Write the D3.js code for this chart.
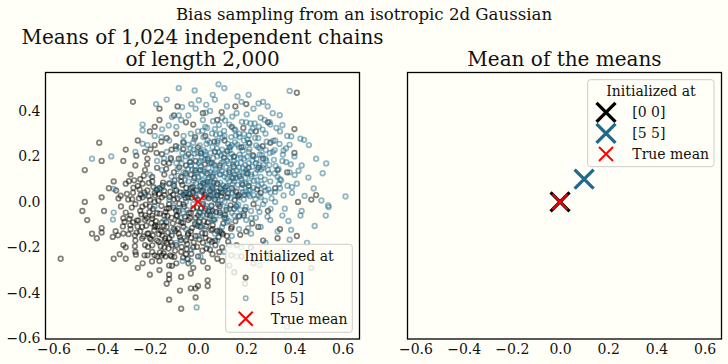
<!DOCTYPE html>
<html><head><meta charset="utf-8">
<script src="https://cdn.jsdelivr.net/npm/d3@7"></script>
<style>
html,body{margin:0;padding:0;background:#fffff8;}
svg{display:block;font-family:"DejaVu Serif",serif;}
</style></head><body>
<svg id="c" width="728" height="364"></svg>
<script>
// ---- data ----
const xTicks = [-0.6,-0.4,-0.2,0.0,0.2,0.4,0.6];
const yTicks = [-0.6,-0.4,-0.2,0.0,0.2,0.4];
const seriesLabels = ["[0 0]","[5 5]"];
const seriesColors = ["#000000","#1f6a8c"];
const trueMean = [0.0, 0.0];
const meanXs = [0.0, 0.10];
const meanYs = [0.0, 0.10];
// chain means, started at [0 0]
const chainsFrom00 = [
[-0.27,0.44],[-0.41,0.26],[-0.40,0.18],[-0.47,0.14],[-0.47,0.00],[-0.40,0.02],[-0.33,0.015],[-0.37,0.06],[-0.35,0.09],[-0.30,0.23],[-0.31,0.18],[-0.22,0.22],[-0.18,0.33],[-0.16,0.41],[-0.085,0.42],[0.41,0.48],[0.20,0.43],[0.155,0.42],[0.29,0.35],[0.40,0.32],[0.40,0.215],[0.37,0.13],[0.49,0.03],[0.47,0.01],[0.415,0.0],[0.33,-0.16],[0.41,-0.15],[0.47,-0.29],[0.195,-0.36],[0.195,-0.33],[0.04,-0.37],[0.04,-0.345],[-0.57,-0.25],[-0.48,-0.04],[-0.46,-0.08],[-0.39,-0.04],[-0.44,-0.14],[-0.42,-0.16],[-0.40,-0.115],[-0.40,-0.135],[-0.35,-0.25],[-0.325,-0.23],[-0.30,-0.25],[-0.31,-0.19],[-0.30,-0.20],[-0.26,-0.22],[-0.23,-0.27],[-0.20,-0.32],[-0.16,-0.30],[-0.12,-0.28],[-0.12,-0.32],[-0.12,-0.34],[-0.13,-0.36],[-0.07,-0.33],[-0.075,-0.39],[-0.12,-0.43],[-0.07,-0.47],[-0.01,-0.42],[-0.03,-0.38],[0.0,-0.37],[-0.03,-0.315],[-0.01,-0.38],
[-0.21,-0.235],[-0.18,-0.235],[-0.17,-0.24],[-0.15,-0.235],[-0.135,-0.24],[-0.115,-0.235],
[-0.30,-0.047],[-0.31,-0.072],[-0.305,-0.088],[-0.354,-0.154],[-0.342,-0.129],[-0.332,-0.147],[-0.31,-0.139],[-0.288,-0.142],[-0.253,-0.081],[-0.232,-0.11],[-0.281,-0.103],[-0.219,-0.059],[-0.19,-0.073],[-0.177,-0.103],[-0.156,-0.125],[-0.205,-0.139],[-0.232,-0.161],[-0.19,-0.191],[-0.163,-0.176],[-0.136,-0.161],[-0.108,-0.191],[-0.143,-0.227],
[-0.28,0.12],[-0.26,0.16],[-0.24,0.10],[-0.22,0.14],[-0.21,0.19],[-0.19,0.11],[-0.18,0.25],[-0.17,0.15],[-0.15,0.21],[-0.14,0.12],[-0.13,0.28],[-0.12,0.17],[-0.11,0.23],[-0.10,0.13],[-0.09,0.30],[-0.08,0.19],[-0.07,0.11],[-0.06,0.26],[-0.05,0.16],[-0.04,0.21],[-0.03,0.12],[-0.02,0.34],[-0.01,0.18],[0.00,0.24],[0.01,0.14],[0.03,0.29],[0.04,0.19],[0.06,0.11],[0.07,0.22],[0.09,0.16],[0.11,0.27],[0.13,0.13],[0.15,0.20],[0.18,0.24],[0.21,0.15],[0.24,0.31],[0.27,0.19],[0.30,0.26],[0.33,0.14],[-0.25,0.27],[-0.20,0.31],[-0.16,0.36],[-0.10,0.38],[-0.05,0.35],[0.02,0.39],[0.08,0.36],[0.14,0.33],
[-0.34,0.05],[-0.32,-0.02],[-0.30,0.08],[-0.29,0.01],[-0.28,-0.06],[-0.27,0.04],[-0.26,-0.01],[-0.25,0.07],[-0.24,-0.04],[-0.23,0.02],[-0.22,-0.08],[-0.21,0.05],[-0.20,-0.02],[-0.19,0.09],[-0.18,0.00],[-0.17,-0.05],[-0.16,0.06],[-0.15,-0.09],[-0.14,0.03],[-0.13,-0.03],[-0.12,0.08],[-0.11,-0.07],[-0.10,0.01],[-0.09,0.05],[-0.08,-0.04],[-0.07,0.09],[-0.06,-0.01],[-0.05,0.04],[-0.04,-0.08],[-0.03,0.06],[-0.02,-0.03],[-0.01,0.02],[0.00,-0.06],[0.01,0.07],[0.02,-0.01],[0.03,0.03],[0.04,-0.09],[0.05,0.05],[0.06,-0.04],[0.07,0.01],[0.08,0.08],[0.09,-0.02],[0.10,0.04],[0.11,-0.07],[0.12,0.02],[0.14,0.06],[0.15,-0.03],[0.17,0.03],[0.19,-0.06],[0.21,0.07],[0.23,-0.01],[0.26,0.04],[0.29,-0.04],[0.32,0.06],
[-0.27,-0.09],[-0.23,0.08],[-0.19,-0.06],[-0.15,0.02],[-0.12,-0.01],[-0.09,-0.06],[-0.06,0.03],[-0.03,-0.05],[0.00,0.01],[0.03,-0.03],[0.06,0.06],[-0.18,0.04],[-0.14,-0.06],[-0.10,0.07],[-0.07,-0.09],[-0.04,0.02],[-0.01,-0.07],[0.02,0.05],[0.05,-0.06],[0.08,0.03],
[-0.28,-0.12],[-0.26,-0.17],[-0.24,-0.13],[-0.22,-0.19],[-0.21,-0.14],[-0.19,-0.22],[-0.18,-0.11],[-0.17,-0.17],[-0.15,-0.13],[-0.14,-0.20],[-0.13,-0.11],[-0.12,-0.16],[-0.11,-0.24],[-0.10,-0.12],[-0.09,-0.19],[-0.08,-0.14],[-0.07,-0.22],[-0.06,-0.11],[-0.05,-0.17],[-0.04,-0.27],[-0.03,-0.13],[-0.02,-0.20],[-0.01,-0.15],[0.00,-0.24],[0.01,-0.11],[0.02,-0.18],[0.03,-0.14],[0.04,-0.29],[0.05,-0.21],[0.06,-0.12],[0.07,-0.17],[0.08,-0.25],[0.09,-0.13],[0.10,-0.20],[0.12,-0.15],[0.13,-0.28],[0.14,-0.11],[0.16,-0.19],[0.18,-0.24],[0.20,-0.13],[0.22,-0.20],[0.25,-0.11],[0.27,-0.17],[0.30,-0.23],[0.34,-0.12],[0.23,-0.27],[0.15,-0.31],[0.10,-0.26],[-0.02,-0.29],[-0.09,-0.27],[-0.16,-0.26],[-0.25,-0.29],[-0.05,-0.23],[-0.13,-0.18],[-0.20,-0.16],[0.06,-0.23],
[-0.295,0.035],[-0.275,-0.025],[-0.265,0.095],[-0.255,-0.135],[-0.245,0.015],[-0.235,-0.055],[-0.225,0.115],[-0.215,-0.105],[-0.205,0.025],[-0.195,-0.165],[-0.185,0.065],[-0.175,-0.085],[-0.165,0.005],[-0.155,-0.195],[-0.145,0.085],[-0.135,-0.045],[-0.125,-0.135],[-0.115,0.045],[-0.105,-0.095],[-0.095,-0.215],[-0.085,0.015],[-0.075,-0.155],[-0.065,0.075],[-0.055,-0.065],[-0.045,-0.185],[-0.035,0.035],[-0.025,-0.115],[-0.015,0.105],[-0.005,-0.025],[0.005,-0.165],[0.015,0.045],[0.025,-0.085],[0.035,-0.205],[0.045,0.015],[0.055,-0.125],[0.065,0.085],[0.075,-0.045],[0.085,-0.155],[0.095,0.025],[0.105,-0.095],[0.115,0.065],[0.125,-0.175],[0.135,-0.015],[0.145,0.105],[0.155,-0.085],[0.165,0.025],[0.175,-0.145],[0.185,0.075],[0.195,-0.035],[0.205,0.125],[0.225,-0.095],[0.245,0.055],
[-0.285,-0.075],[-0.262,-0.195],[-0.242,0.055],[-0.222,-0.235],[-0.202,-0.045],[-0.182,-0.125],[-0.162,0.035],[-0.142,-0.105],[-0.122,-0.205],[-0.102,-0.025],[-0.082,-0.085],[-0.062,-0.245],[-0.042,-0.145],[-0.022,0.065],[-0.002,-0.105],[0.018,-0.215],[0.038,-0.055],[0.058,-0.175],[0.078,0.045],[0.098,-0.135],[0.118,-0.035],[0.138,-0.235],[0.158,0.045],[-0.212,0.165],[-0.172,0.215],[-0.132,0.145],[-0.092,0.245],[-0.052,0.125],[-0.012,0.285],[0.028,0.165],[0.068,0.265],[0.108,0.195],[0.148,0.155],[0.188,0.325],[0.228,0.205],[0.268,0.245],[0.098,0.395],[0.038,0.125],[-0.032,0.175],[-0.152,0.265],
[-0.268,0.062],[-0.251,-0.108],[-0.238,0.031],[-0.226,-0.152],[-0.217,-0.012],[-0.204,0.083],[-0.193,-0.094],[-0.186,-0.031],[-0.171,0.052],[-0.163,-0.142],[-0.152,-0.018],[-0.147,0.072],[-0.138,-0.172],[-0.127,-0.062],[-0.118,0.021],[-0.109,-0.148],[-0.097,0.094],[-0.091,-0.038],[-0.084,-0.118],[-0.073,0.042],[-0.068,-0.198],[-0.057,-0.021],[-0.049,0.061],[-0.041,-0.138],[-0.033,-0.072],[-0.027,0.018],[-0.018,-0.178],[-0.008,0.051],[0.004,-0.088],[0.013,-0.028],[0.022,0.082],[0.031,-0.158],[0.043,-0.042],[0.052,0.028],[0.061,-0.102],[0.072,-0.191],[0.083,-0.011],[0.094,0.058],[0.103,-0.142],[0.112,-0.058],[0.124,0.038],[0.137,-0.118],[0.152,0.008],[0.171,-0.062],[0.193,0.031],[-0.312,-0.108],[-0.321,0.027],[-0.287,0.091],[-0.258,-0.232],[-0.191,-0.262],[-0.108,-0.281],[-0.043,-0.251],[0.021,-0.262],[0.088,-0.221],[-0.256,0.203],[-0.197,0.231],[-0.113,0.192],[-0.061,0.232],[0.012,0.213],[0.057,0.171],[0.121,0.223],[0.172,0.112],[0.213,0.258],[0.251,0.151],
[-0.231,-0.021],[-0.222,0.041],[-0.213,-0.071],[-0.199,0.008],[-0.188,-0.148],[-0.179,0.028],[-0.168,-0.108],[-0.159,-0.052],[-0.148,-0.148],[-0.141,0.048],[-0.131,-0.088],[-0.121,-0.028],[-0.112,-0.178],[-0.103,0.032],[-0.093,-0.128],[-0.087,-0.062],[-0.078,-0.008],[-0.071,-0.168],[-0.062,-0.092],[-0.052,0.018],[-0.047,-0.208],[-0.038,-0.048],[-0.029,-0.158],[-0.021,0.042],[-0.013,-0.098],[-0.004,-0.198],[0.008,-0.048],[0.017,-0.138],[0.026,0.022],[0.034,-0.108],[0.047,-0.168],[0.056,-0.018],[0.066,-0.078],[0.079,-0.128],[0.091,-0.048],[-0.247,-0.082],[-0.273,0.012],[-0.262,-0.148],[-0.208,-0.198],[-0.158,-0.222],[-0.098,-0.242],[-0.028,-0.228],[0.039,0.088],[-0.012,0.138],[-0.078,0.152],[-0.142,0.172]
];
// chain means, started at [5 5]
const chainsFrom55 = [
[-0.08,0.50],[-0.014,0.49],[-0.13,0.45],[-0.028,0.43],[0.003,0.447],[-0.174,0.43],[-0.23,0.34],[-0.23,0.315],[-0.23,0.256],[-0.21,0.25],[-0.44,0.19],[-0.36,0.20],[-0.26,0.22],[-0.35,0.057],[-0.35,-0.047],[-0.353,-0.078],
[0.085,0.517],[0.109,0.50],[0.061,0.471],[0.164,0.464],[0.21,0.471],[0.38,0.488],[0.251,0.433],[0.289,0.42],[0.034,0.427],[0.387,0.288],[0.44,0.273],[0.46,0.25],[0.49,0.19],[0.532,0.169],[0.517,0.126],[0.458,0.107],[0.417,0.137],[0.48,0.059],[0.512,0.006],[0.442,0.026],[0.612,0.024],[0.54,-0.016],[0.53,-0.06],[0.542,-0.023],[0.484,-0.106],[0.425,-0.06],[0.43,-0.04],[0.375,-0.084],[0.386,-0.123],[0.38,-0.166],[0.452,-0.18],[0.256,-0.279],[0.152,-0.308],[0.369,-0.55],[-0.006,-0.464],[-0.064,-0.26],[-0.03,-0.26],
[0.339,0.381],[0.297,0.351],[0.35,0.337],[0.276,0.361],[0.38,0.251],[0.425,0.278],[0.355,0.226],[0.366,0.175],[0.334,0.145],[0.34,0.10],[0.39,0.065],[0.355,0.028],[0.32,0.043],
[-0.18,0.29],[-0.152,0.285],[-0.149,0.319],[-0.108,0.373],[-0.08,0.38],[-0.066,0.417],[-0.122,0.336],
[-0.12,0.27],[-0.09,0.33],[-0.06,0.29],[-0.04,0.38],[-0.02,0.26],[0.00,0.31],[0.02,0.36],[0.04,0.27],[0.05,0.40],[0.07,0.32],[0.08,0.26],[0.10,0.37],[0.11,0.29],[0.13,0.34],[0.14,0.25],[0.16,0.39],[0.17,0.30],[0.19,0.27],[0.20,0.35],[0.22,0.31],[0.23,0.41],[0.25,0.28],[0.26,0.37],[0.28,0.30],[0.30,0.34],[0.32,0.27],[0.34,0.31],[0.37,0.29],[0.12,0.42],[0.18,0.44],[-0.01,0.41],[0.07,0.45],[0.27,0.44],[0.31,0.39],[-0.07,0.36],[0.03,0.33],[0.15,0.32],[0.21,0.26],[0.09,0.30],[-0.03,0.30],
[-0.20,0.12],[-0.17,0.18],[-0.15,0.14],[-0.13,0.22],[-0.11,0.11],[-0.09,0.17],[-0.08,0.24],[-0.06,0.13],[-0.05,0.20],[-0.03,0.16],[-0.02,0.23],[0.00,0.11],[0.01,0.18],[0.02,0.14],[0.03,0.22],[0.04,0.10],[0.05,0.17],[0.06,0.24],[0.07,0.13],[0.08,0.20],[0.09,0.15],[0.10,0.23],[0.11,0.11],[0.12,0.18],[0.13,0.14],[0.14,0.21],[0.15,0.12],[0.16,0.17],[0.17,0.24],[0.18,0.10],[0.19,0.19],[0.20,0.14],[0.21,0.22],[0.22,0.12],[0.24,0.17],[0.25,0.24],[0.26,0.11],[0.28,0.19],[0.29,0.14],[0.31,0.22],[0.33,0.11],[0.35,0.18],[0.38,0.13],[0.40,0.20],[0.43,0.16],[-0.01,0.13],[0.03,0.19],[0.07,0.16],[0.11,0.21],[0.15,0.18],[0.19,0.13],[0.23,0.20],[0.27,0.15],[-0.07,0.19],[0.09,0.12],[0.13,0.24],[0.05,0.13],[0.17,0.15],[0.21,0.17],[0.01,0.22],
[-0.22,0.03],[-0.18,-0.02],[-0.15,0.06],[-0.12,0.01],[-0.10,0.08],[-0.08,-0.03],[-0.06,0.04],[-0.04,0.09],[-0.02,-0.01],[0.00,0.05],[0.01,0.09],[0.02,0.00],[0.04,0.06],[0.05,-0.04],[0.06,0.03],[0.08,0.08],[0.09,-0.01],[0.10,0.05],[0.11,0.00],[0.12,0.07],[0.13,-0.03],[0.14,0.04],[0.15,0.09],[0.16,-0.02],[0.18,0.06],[0.19,0.01],[0.20,0.08],[0.22,-0.04],[0.23,0.03],[0.25,0.07],[0.27,-0.01],[0.28,0.05],[0.30,0.09],[0.32,0.00],[0.34,0.06],[0.36,-0.03],[0.39,0.04],[0.41,0.08],[-0.01,0.03],[0.03,0.08],[0.07,0.01],[0.11,0.06],[0.17,0.02],[0.21,0.05],[0.26,0.02],[0.13,0.09],[0.06,0.07],[-0.05,0.00],
[-0.14,-0.08],[-0.11,-0.13],[-0.09,-0.18],[-0.07,-0.07],[-0.05,-0.12],[-0.03,-0.21],[-0.01,-0.09],[0.00,-0.15],[0.02,-0.06],[0.03,-0.12],[0.04,-0.19],[0.06,-0.08],[0.07,-0.14],[0.09,-0.06],[0.10,-0.11],[0.11,-0.22],[0.12,-0.09],[0.14,-0.15],[0.15,-0.06],[0.17,-0.12],[0.18,-0.20],[0.20,-0.08],[0.22,-0.14],[0.24,-0.07],[0.26,-0.11],[0.28,-0.18],[0.30,-0.08],[0.33,-0.13],[0.35,-0.06],[0.01,-0.24],[0.08,-0.17],[-0.06,-0.16],[0.13,-0.19],[0.19,-0.05],[0.16,-0.24],
[-0.095,0.055],[-0.085,0.145],[-0.075,0.025],[-0.065,0.215],[-0.055,0.095],[-0.045,-0.035],[-0.035,0.175],[-0.025,0.065],[-0.015,0.275],[-0.005,0.125],[0.005,-0.045],[0.015,0.195],[0.025,0.035],[0.035,0.255],[0.045,0.105],[0.055,-0.015],[0.065,0.165],[0.075,0.295],[0.085,0.045],[0.095,0.205],[0.105,-0.055],[0.115,0.125],[0.125,0.255],[0.135,0.015],[0.145,0.165],[0.155,0.315],[0.165,0.075],[0.175,-0.035],[0.185,0.225],[0.195,0.105],[0.205,0.275],[0.215,0.025],[0.225,0.155],[0.235,0.345],[0.245,0.095],[0.255,-0.045],[0.265,0.205],[0.275,0.065],[0.285,0.265],[0.295,0.125],[0.305,0.015],[0.315,0.185],[0.325,0.325],[0.345,0.095],[0.365,0.235],[0.385,0.165],
[-0.082,0.115],[-0.062,0.265],[-0.042,0.145],[-0.022,0.035],[-0.002,0.215],[0.018,0.095],[0.038,0.325],[0.058,0.055],[0.078,0.235],[0.098,0.135],[0.118,-0.025],[0.138,0.285],[0.158,0.105],[0.178,0.195],[0.198,0.045],[0.218,0.345],[0.238,0.125],[0.258,0.235],[0.278,0.005],[0.298,0.215],[0.318,0.125],[0.338,0.255],[0.008,-0.105],[0.048,-0.075],[0.088,-0.125],[0.128,-0.085],[0.168,-0.065],[0.208,-0.115],[0.248,-0.025],[0.288,-0.065],
[-0.112,0.185],[-0.102,-0.015],[0.012,0.155],[0.052,0.215],[0.092,0.085],[0.132,0.195],[0.172,0.285],[0.212,0.085],[0.252,0.165],[0.292,0.055],[0.062,0.355],[0.142,0.375],[0.202,0.385],[-0.032,0.235],[0.022,0.285],
[-0.048,0.118],[-0.037,0.042],[-0.029,0.198],[-0.018,0.092],[-0.011,0.158],[-0.003,0.008],[0.007,0.248],[0.014,0.061],[0.027,0.132],[0.033,-0.018],[0.041,0.181],[0.052,0.088],[0.058,0.301],[0.067,0.038],[0.073,0.142],[0.081,0.268],[0.088,-0.038],[0.097,0.171],[0.104,0.072],[0.108,0.312],[0.117,0.152],[0.123,0.022],[0.131,0.228],[0.139,0.108],[0.147,0.052],[0.153,0.262],[0.161,0.138],[0.167,-0.012],[0.173,0.208],[0.182,0.082],[0.191,0.298],[0.197,0.162],[0.207,0.032],[0.213,0.232],[0.221,0.111],[0.229,0.062],[0.237,0.281],[0.243,0.188],[0.252,0.028],[0.261,0.142],[0.268,0.318],[0.277,0.098],[0.283,0.181],[0.301,0.041],[0.311,0.268],[0.322,0.158],[0.336,0.078],[0.352,0.208],[-0.068,0.168],[-0.091,0.232],[-0.118,0.082],[-0.141,0.191],[-0.172,0.058],[0.031,0.392],[0.112,0.358],[0.182,0.352],[0.252,0.331],[0.061,-0.052],[0.141,-0.048],[0.221,-0.072],[0.301,-0.031],[0.011,-0.068],[-0.061,-0.051],[0.371,0.071],[0.401,0.118],
[0.004,0.172],[0.016,0.118],[0.024,0.228],[0.036,0.074],[0.044,0.148],[0.049,0.262],[0.063,0.192],[0.069,0.098],[0.077,0.018],[0.086,0.218],[0.092,0.122],[0.101,0.282],[0.106,0.178],[0.113,0.048],[0.121,0.102],[0.128,0.168],[0.134,0.242],[0.143,0.078],[0.149,0.198],[0.157,0.028],[0.163,0.252],[0.169,0.122],[0.177,0.172],[0.186,0.042],[0.189,0.242],[0.199,0.128],[0.204,0.198],[0.211,0.292],[0.218,0.052],[0.226,0.182],[0.233,0.092],[0.241,0.248],[0.247,0.142],[0.256,0.208],[0.264,0.078],[0.272,0.162],[0.281,0.228],[-0.024,0.142],[-0.014,0.212],[-0.041,0.252],[-0.052,0.032],[-0.008,0.082],[0.028,-0.042],[0.071,-0.078],[0.118,-0.072],[0.158,-0.018],[0.198,-0.022],[0.238,0.012],[0.018,0.312],[0.087,0.338],[0.157,0.292],[0.227,0.322],[0.296,0.162],[0.318,0.228],[0.047,0.022],[0.099,0.008],[0.143,0.132],[0.186,0.148],[0.062,0.122],[0.031,0.206]
];

// ---- drawing ----
const svg = d3.select("#c");
const BG = "#fffff8";
svg.append("rect").attr("width",728).attr("height",364).attr("fill",BG);

const xDom = [-0.633, 0.670], yDom = [-0.603, 0.569];
const plotTop = 72.5, plotBottom = 339;
const panels = [{l:45.5, r:359.5}, {l:407.5, r:721.5}];
const xs = panels.map(p => d3.scaleLinear().domain(xDom).range([p.l, p.r]));
const y = d3.scaleLinear().domain(yDom).range([plotBottom, plotTop]);

function xPath(s){ return `M${-s},${-s}L${s},${s}M${-s},${s}L${s},${-s}`; }

svg.append("text").attr("x",364).attr("y",20).attr("text-anchor","middle")
  .attr("font-size",16.6).attr("fill","#111").text("Bias sampling from an isotropic 2d Gaussian");
const lt = svg.append("text").attr("text-anchor","middle").attr("font-size",20).attr("fill","#111");
lt.append("tspan").attr("x",202.5).attr("y",44).text("Means of 1,024 independent chains");
lt.append("tspan").attr("x",202.5).attr("y",66).text("of length 2,000");
svg.append("text").attr("x",564.5).attr("y",66).attr("text-anchor","middle")
  .attr("font-size",20).attr("fill","#111").text("Mean of the means");

const fmt = d3.format(".1f");
panels.forEach((p,i) => {
  const ax = svg.append("g").attr("transform",`translate(0,${plotBottom})`)
    .call(d3.axisBottom(xs[i]).tickValues(xTicks).tickFormat(fmt).tickSize(0).tickPadding(5));
  ax.select(".domain").remove();
  ax.selectAll("text").attr("font-size",14).attr("font-family","DejaVu Serif").attr("fill","#111");
});
const ay = svg.append("g").attr("transform",`translate(${panels[0].l},0)`)
  .call(d3.axisLeft(y).tickValues(yTicks).tickFormat(fmt).tickSize(0).tickPadding(5));
ay.select(".domain").remove();
ay.selectAll("text").attr("font-size",14).attr("font-family","DejaVu Serif").attr("fill","#111");

// left scatter
const gL = svg.append("g");
[chainsFrom00, chainsFrom55].forEach((pts, k) => {
  gL.append("g").selectAll("circle").data(pts).join("circle")
    .attr("cx", d => xs[0](d[0])).attr("cy", d => y(d[1])).attr("r", 2.3)
    .attr("fill","none").attr("stroke", seriesColors[k]).attr("stroke-width",1.7)
    .attr("stroke-opacity",0.5);
});
gL.append("path").attr("d", xPath(7))
  .attr("transform",`translate(${xs[0](trueMean[0])},${y(trueMean[1])})`)
  .attr("stroke","#ff0000").attr("stroke-width",2).attr("fill","none");

// right plot
const gR = svg.append("g");
meanXs.forEach((mx,k) => {
  gR.append("path").attr("d", xPath(9.5))
    .attr("transform",`translate(${xs[1](mx)},${y(meanYs[k])})`)
    .attr("stroke", seriesColors[k]).attr("stroke-width",3.3).attr("fill","none");
});
gR.append("path").attr("d", xPath(7.5))
  .attr("transform",`translate(${xs[1](trueMean[0])},${y(trueMean[1])})`)
  .attr("stroke","#ff0000").attr("stroke-width",2).attr("fill","none");

// frames
panels.forEach(p => {
  svg.append("rect").attr("x",p.l).attr("y",plotTop).attr("width",p.r-p.l).attr("height",plotBottom-plotTop)
    .attr("fill","none").attr("stroke","#000").attr("stroke-width",1.3);
});

// legends
function legend(x0,y0,w,h,titleX,titleY,mx,tx,rows,kind){
  const g = svg.append("g");
  g.append("rect").attr("x",x0).attr("y",y0).attr("width",w).attr("height",h).attr("rx",3)
    .attr("fill",BG).attr("fill-opacity",0.8).attr("stroke","#cccccc").attr("stroke-width",1);
  g.append("text").attr("x",titleX).attr("y",titleY).attr("text-anchor","middle")
    .attr("font-size",14).attr("fill","#111").text("Initialized at");
  const labels = seriesLabels.concat(["True mean"]);
  labels.forEach((lab,k) => {
    const cy = rows[k];
    if (k < 2) {
      if (kind === "scatter") {
        g.append("circle").attr("cx",mx).attr("cy",cy).attr("r",2.2).attr("fill","none")
          .attr("stroke",seriesColors[k]).attr("stroke-width",1.6).attr("stroke-opacity",0.5);
      } else {
        g.append("path").attr("d",xPath(9.5)).attr("transform",`translate(${mx},${cy})`)
          .attr("stroke",seriesColors[k]).attr("stroke-width",3.3).attr("fill","none");
      }
    } else {
      g.append("path").attr("d",xPath(7)).attr("transform",`translate(${mx},${cy})`)
        .attr("stroke","#ff0000").attr("stroke-width",2).attr("fill","none");
    }
    g.append("text").attr("x",tx).attr("y",cy+5).attr("font-size",14).attr("fill","#111").text(lab);
  });
}
legend(225.7,244.3,126.6,88,289,261,245.7,270.7,[277.7,298.3,318.7],"scatter");
legend(587.7,79.7,126.3,87,651,95.7,606,632.3,[112.3,133.3,154],"x");
</script>
</body></html>
